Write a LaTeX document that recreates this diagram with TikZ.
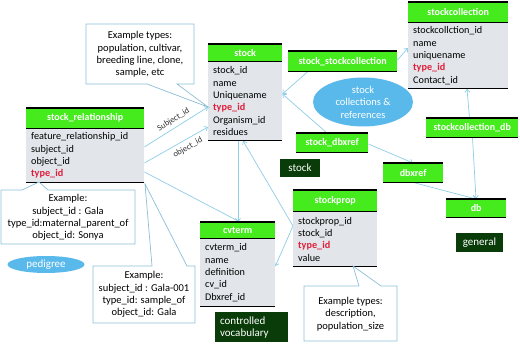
\documentclass[tikz,border=0pt]{standalone}
\usepackage{fontspec}
\setmainfont{Carlito}
\usetikzlibrary{arrows.meta,backgrounds,shapes.geometric}
\definecolor{hgreen}{RGB}{70,235,30}
\definecolor{bodygray}{RGB}{226,230,234}
\definecolor{redtxt}{RGB}{225,30,60}
\definecolor{linkc}{RGB}{140,205,232}
\definecolor{callc}{RGB}{140,190,215}
\definecolor{darkg}{RGB}{10,60,10}
\definecolor{ellc}{RGB}{90,185,235}
\definecolor{lblc}{RGB}{50,50,50}
\newcommand\tid{\textcolor{redtxt}{\bfseries type\_id}}
\newcommand\mktable[8]{%
  \node[hdr, minimum width=#4pt, minimum height=#5pt] (#1h) at (#2,#3) {#7};
  \node[tbody, minimum width=#4pt, minimum height=#6pt, text width=\dimexpr #4pt-10pt\relax] (#1b) at (#1h.south west) {#8};
  \draw[blk] (#1h.north west) -- (#1h.north east);
  \draw[blk] (#1h.south west) -- (#1h.south east);
  \draw[blk] (#1b.south west) -- (#1b.south east);
}
\newcommand\mkbox[6]{%
  \node[hdr, minimum width=#4pt, minimum height=#5pt] (#1) at (#2,#3) {#6};
  \draw[blk] (#1.north west) -- (#1.north east);
  \draw[blk] (#1.south west) -- (#1.south east);
}
\begin{document}
\begin{tikzpicture}[x=1pt,y=-1pt,
  hdr/.style={fill=hgreen, text=white, font=\fontsize{10}{12}\selectfont\bfseries, inner sep=0pt, anchor=north west},
  tbody/.style={fill=bodygray, anchor=north west, inner xsep=5pt, inner ysep=0pt, align=left, font=\fontsize{10.2}{12.3}\selectfont, text=black},
  blk/.style={line width=1.4pt, black},
  dark/.style={fill=darkg, text=white, font=\fontsize{11}{13}\selectfont, inner sep=0pt},
  link/.style={draw=linkc, line width=0.7pt, -{Straight Barb[length=3pt,width=5pt]}},
  callout/.style={draw=callc, fill=white, line width=0.7pt},
  ctext/.style={font=\fontsize{10.5}{12.3}\selectfont, align=center, inner sep=0pt},
  lbl/.style={font=\fontsize{8.5}{9}\selectfont, text=lblc, inner sep=0pt},
  ell/.style={ellipse, fill=ellc, text=white, inner sep=0pt, align=center}
]
\useasboundingbox (0,0) rectangle (520,347);

% tables
\mktable{stock}{208}{44}{74}{17}{79}{stock}{stock\_id\\name\\Uniquename\\\tid\\Organism\_id\\residues}
\mktable{rel}{26}{108}{118}{20}{54}{stock\_relationship}{feature\_relationship\_id\\subject\_id\\object\_id\\\tid}
\mktable{sc}{408}{2}{100}{20}{66}{stockcollection}{stockcollction\_id\\name\\uniquename\\\tid\\Contact\_id}
\mktable{cv}{200}{222}{75}{16}{68}{cvterm}{cvterm\_id\\name\\definition\\cv\_id\\Dbxref\_id}
\mktable{sp}{293}{190}{84}{21}{55}{stockprop}{stockprop\_id\\stock\_id\\\tid\\value}

% linking boxes
\mkbox{ssc}{288}{51}{109}{20}{stock\_stockcollection}
\mkbox{sdx}{296}{133}{72}{19}{stock\_dbxref}
\mkbox{scdb}{426}{118}{92}{19}{stockcollection\_db}
\mkbox{dbx}{383}{163}{60}{19}{dbxref}
\mkbox{db}{446}{199}{60}{18}{db}

% dark labels
\node[dark, minimum width=40pt, minimum height=18pt] (lstock) at (300,168) {stock};
\node[dark, minimum width=47pt, minimum height=19pt] (lgen) at (479.5,242.5) {general};
\node[dark, minimum width=73pt, minimum height=30pt, align=left, text width=63pt, font=\fontsize{11}{12.5}\selectfont] (lcv) at (251.5,327.5) {controlled\\vocabulary};

% ellipses
\node[ell, minimum width=100pt, minimum height=49pt, font=\fontsize{10.5}{12.5}\selectfont] (scr) at (363,102) {stock\\collections \&\\references};
\node[ell, minimum width=77pt, minimum height=17pt, font=\fontsize{11}{13}\selectfont] (ped) at (46,264.5) {pedigree};

% callouts
\draw[callout] (86,24) -- (194,24) -- (194,84) -- (177,84) -- (208,107) -- (147,84) -- (86,84) -- cycle;
\node[ctext] (c1) at (140,54.5) {Example types:\\population, cultivar,\\breeding line, clone,\\sample, etc};
\draw[callout] (1,190) -- (22,190) -- (39,182) -- (48,190) -- (135,190) -- (135,244) -- (1,244) -- cycle;
\node[ctext] (c2) at (68,217.5) {Example:\\subject\_id : Gala\\type\_id:maternal\_parent\_of\\object\_id: Sonya};
\draw[callout] (93,266) -- (152,266) -- (145,184) -- (187,266) -- (195,266) -- (195,323) -- (93,323) -- cycle;
\node[ctext] (c3) at (144,294.5) {Example:\\subject\_id : Gala-001\\type\_id: sample\_of\\object\_id: Gala};
\draw[callout] (304,286) -- (359,286) -- (353,266) -- (381,286) -- (397,286) -- (397,341) -- (304,341) -- cycle;
\node[ctext] (c4) at (350.5,314) {Example types:\\description,\\population\_size};

% connectors
\begin{scope}[on background layer]
\draw[link] (relb.east |- 0,147) -- node[lbl, pos=0.52, above=3.5pt, sloped] {Subject\_id} (stockb.west |- 0,107);
\draw[link] (relb.east |- 0,163) -- node[lbl, pos=0.62, below=4pt, sloped] {object\_id} (stockb.west |- 0,127);
\draw[link] (relb.east |- 0,172) -- (cvh.north -| 240,0);
\draw[link] (stockb.south -| 238,0) -- (cvh.north -| 238,0);
\draw[link] (spb.west |- 0,226) -- (stockb.south -| 243,0);
\draw[link] (spb.west |- 0,226) -- (cvb.east |- 0,266);
\draw[link] (ssc.south -| 308,0) -- (stockb.east |- 0,94);
\draw[link] (ssc.east |- 0,60) -- (scb.west |- 0,48);
\draw[link] (sdx.north -| 327,0) -- (stockb.east |- 0,94);
\draw[link] (sdx.east |- 0,144) -- (dbx.north -| 413,0);
\draw[link] (scdb.north -| 469.5,0) -- (scb.south -| 467,0);
\draw[link] (scdb.south -| 472.5,0) -- (db.north -| 476,0);
\draw[link] (dbx.south -| 413,0) -- (db.north -| 476,0);
\end{scope}
\end{tikzpicture}
\end{document}
